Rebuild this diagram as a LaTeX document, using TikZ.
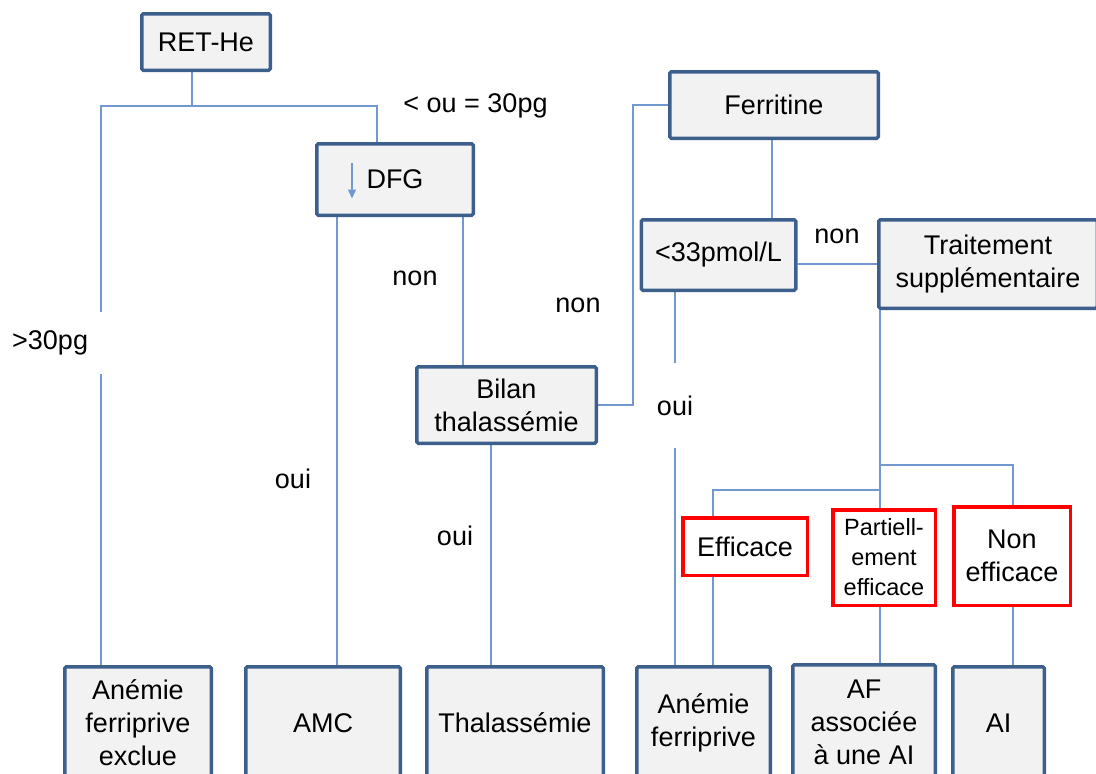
\documentclass[tikz,border=0pt]{standalone}
\usepackage{fontspec}
\setmainfont{Liberation Sans}
\usetikzlibrary{arrows.meta,calc,backgrounds}
\definecolor{linkblue}{HTML}{7199CF}
\definecolor{boxblue}{HTML}{3D5F8C}
\definecolor{boxfill}{HTML}{F2F2F2}
\definecolor{alertred}{HTML}{FF0000}

\begin{document}
\begin{tikzpicture}[x=1pt,y=-1pt,
  basefont/.style={font=\fontsize{27}{33}\selectfont},
  box/.style={basefont, draw=boxblue, line width=3.5pt, fill=boxfill,
    rounded corners=1.5pt, inner sep=0pt, align=center},
  redbox/.style={basefont, draw=alertred, line width=3.5pt, fill=white,
    inner sep=0pt, align=center},
  dims/.style 2 args={minimum width=#1pt-3.5pt, minimum height=#2pt-3.5pt},
  conn/.style={draw=linkblue, line width=1.4pt},
  lbl/.style={basefont, inner sep=0pt, anchor=base},
  gaplbl/.style={basefont, inner sep=0pt, fill=white}
]
\useasboundingbox (0,0) rectangle (1096,774);

% decision boxes
\node[box, dims={132}{60}]  (ret)   at (206,42)    {RET-He};
\node[box, dims={160}{75}]  (dfg)   at (395,179.5) {DFG};
\node[box, dims={183}{80}]  (bilan) at (506.5,405) {Bilan\\thalassémie};
\node[box, dims={212}{70}]  (ferr)  at (774,105)   {Ferritine};
\node[box, dims={158}{74}]  (pmol)  at (718.5,255) {<33pmol/L};
\node[box, dims={222}{92}]  (trait) at (988,264)   {Traitement\\supplémentaire};

% treatment outcomes
\node[redbox, dims={128}{61}]  (eff)    at (745,546.5) {Efficace};
\node[redbox, dims={106}{99}, font=\fontsize{23.5}{30}\selectfont]
                               (part)   at (884,557.5) {Partiell-\\ement\\efficace};
\node[redbox, dims={120}{102}] (noneff) at (1012,556)  {Non\\efficace};

% diagnoses
\node[box, dims={150}{116}] (b1) at (138,723)   {Anémie\\ferriprive\\exclue};
\node[box, dims={158}{116}] (b2) at (323,723)   {AMC};
\node[box, dims={180}{116}] (b3) at (515,723)   {Thalassémie};
\node[box, dims={137}{116}] (b4) at (703.5,723) {Anémie\\ferriprive};
\node[box, dims={146}{118}] (b5) at (864,722)   {AF\\associée\\à une AI};
\node[box, dims={95}{116}]  (b6) at (998.5,723) {AI};

% junctions and branch columns
\coordinate (s1)  at (192,106);
\coordinate (jL)  at (101,106);
\coordinate (jR)  at (377,106);
\coordinate (xd1) at (337,0);
\coordinate (xd2) at (463,0);
\coordinate (xb)  at (491,0);
\coordinate (kf)  at (633,105);
\coordinate (xf)  at (772,0);
\coordinate (xp)  at (675,0);
\coordinate (t1)  at (880,465);
\coordinate (t2)  at (880,490);
\coordinate (xn)  at (1013,0);
\coordinate (xe)  at (713,0);

\begin{scope}[on background layer]
  \draw[conn] (ret.south -| s1) -- (s1);
  \draw[conn] (b1.north -| jL) -- (jL) -- (jR) -- (dfg.north -| jR);
  \draw[conn] (dfg.south -| xd1) -- (b2.north -| xd1);
  \draw[conn] (dfg.south -| xd2) -- (bilan.north -| xd2);
  \draw[conn] (bilan.east) -| (kf) -- (ferr.west);
  \draw[conn] (bilan.south -| xb) -- (b3.north -| xb);
  \draw[conn] (ferr.south -| xf) -- (pmol.north -| xf);
  \draw[conn] (pmol.east |- trait.west) -- (trait.west);
  \draw[conn] (pmol.south -| xp) -- (b4.north -| xp);
  \draw[conn] (trait.south -| t1) -- (t1) -| (noneff.north -| xn);
  \draw[conn] (t1) -- (part.north -| t1);
  \draw[conn] (t2) -| (eff.north -| xe);
  \draw[conn] (eff.south -| xe) -- (b4.north -| xe);
  \draw[conn] (part.south -| t1) -- (b5.north -| t1);
  \draw[conn] (noneff.south -| xn) -- (b6.north -| xn);
\end{scope}

% falling-rate arrow inside the DFG box
\draw[conn, -{Triangle[length=9pt, width=8pt]}]
  ($(dfg.center)+(-43,-16.5)$) -- ($(dfg.center)+(-43,19)$);

% branch labels
\node[lbl] (lle)   at (475.5,112) {< ou = 30pg};
\node[gaplbl, anchor=west, minimum height=62pt, text width=92pt, align=left]
               (lgt) at (12,343) {>30pg};
\node[lbl] (lnon1) at (415,285)   {non};
\node[lbl] (loui1) at (293,488)   {oui};
\node[lbl] (lnon2) at (578,312)   {non};
\node[lbl] (loui2) at (455,545)   {oui};
\node[gaplbl, minimum height=85pt] (loui3) at (675,405.5) {oui};
\node[lbl] (lnon3) at (837,243)   {non};
\end{tikzpicture}
\end{document}
